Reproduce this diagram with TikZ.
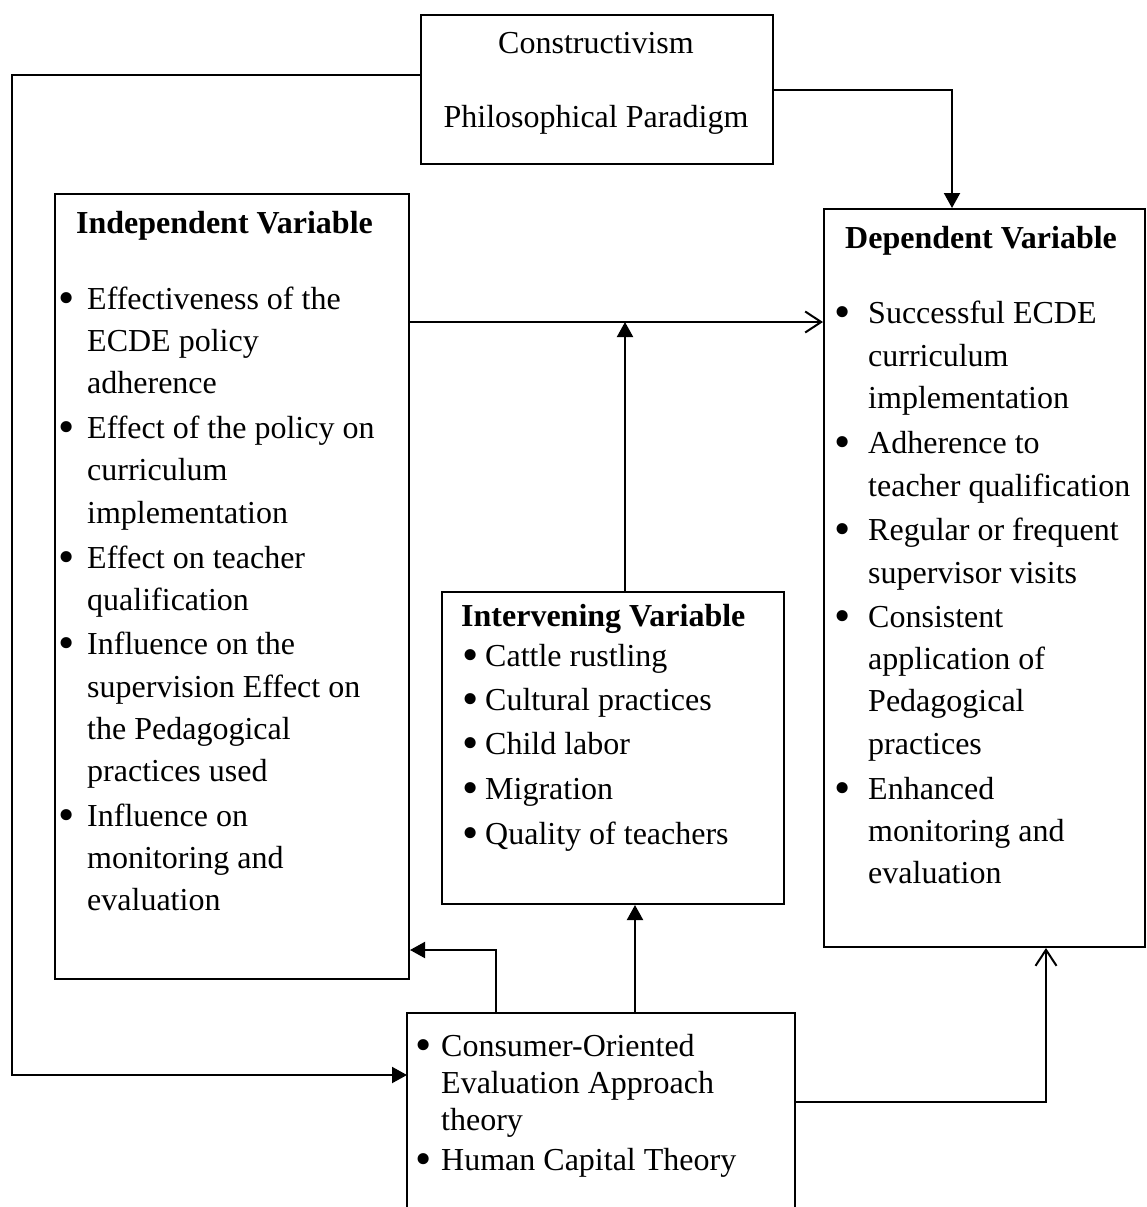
\documentclass[tikz,border=0pt]{standalone}
\usepackage{fontspec}
\usepackage{graphicx}
\setmainfont{Liberation Serif}
\usetikzlibrary{arrows.meta}
\newcommand{\bigbul}{\raisebox{-4.5pt}{\scalebox{1.45}{\textbullet}}}
\begin{document}
\begin{tikzpicture}[x=1pt,y=-1pt,
  box/.style={draw,line width=2pt,inner sep=0pt,anchor=north west},
  txt/.style={inner sep=0pt,anchor=base west,font=\fontsize{32pt}{42pt}\selectfont},
  hdr/.style={txt,font=\fontsize{32pt}{42pt}\selectfont\bfseries},
  ctr/.style={inner sep=0pt,anchor=base,font=\fontsize{32pt}{42pt}\selectfont},
  bul/.style={inner sep=0pt,anchor=base,font=\fontsize{32pt}{42pt}\selectfont},
  conn/.style={line width=2pt},
  arrF/.style={conn,-{Triangle[length=15pt,width=16pt]}},
  arrO/.style={conn,-{Straight Barb[length=16pt,width=21pt,line width=2pt]}}]
\useasboundingbox (0,0) rectangle (1146,1207);
\clip (0,0) rectangle (1146,1207);
% boxes
\node[box,minimum width=352pt,minimum height=149pt] (top) at (420,14) {};
\node[box,minimum width=354pt,minimum height=785pt] (ind) at (54,193) {};
\node[box,minimum width=321pt,minimum height=738pt] (dep) at (823,208) {};
\node[box,minimum width=342pt,minimum height=312pt] (int) at (441,591) {};
\draw[line width=2pt] (407,1230) -- (407,1013) coordinate (botnw) -- (795,1013) coordinate (botne) -- (795,1230);
% top texts
\node[ctr] (t1) at (596,53) {Constructivism};
\node[ctr] (t2) at (596,127) {Philosophical Paradigm};
% independent
\node[hdr] (indh) at (76,233) {Independent Variable};
\foreach \yy/\txt [count=\k] in {309/Effectiveness of the,351/ECDE policy,393/adherence,438/Effect of the policy on,480/curriculum,523/implementation,568/Effect on teacher,610/qualification,654/Influence on the,697/supervision Effect on,739/the Pedagogical,781/practices used,826/Influence on,868/monitoring and,910/evaluation}
  \node[txt] (ind-\k) at (87,\yy) {\txt};
\foreach \yy [count=\k] in {309,438,568,654,826}
  \node[bul] (indb-\k) at (67,\yy) {\bigbul};
% dependent
\node[hdr] (deph) at (845,248) {Dependent Variable};
\foreach \yy/\txt [count=\k] in {323/Successful ECDE,366/curriculum,408/implementation,453/Adherence to,496/teacher qualification,540/Regular or frequent,583/supervisor visits,627/Consistent,669/application of,711/Pedagogical,754/practices,799/Enhanced,841/monitoring and,883/evaluation}
  \node[txt] (dep-\k) at (868,\yy) {\txt};
\foreach \yy [count=\k] in {323,453,540,627,799}
  \node[bul] (depb-\k) at (843,\yy) {\bigbul};
% intervening
\node[hdr] (inth) at (461,626) {Intervening Variable};
\foreach \yy/\txt [count=\k] in {666/Cattle rustling,710/Cultural practices,754/Child labor,799/Migration,844/Quality of teachers}
  {\node[txt] (int-\k) at (485,\yy) {\txt};
   \node[bul] (intb-\k) at (471,\yy) {\bigbul};}
% bottom
\foreach \yy/\txt [count=\k] in {1056/Consumer-Oriented,1093/Evaluation Approach,1130/theory,1170/Human Capital Theory}
  \node[txt] (bot-\k) at (441,\yy) {\txt};
\node[bul] (botb-1) at (424,1056) {\bigbul};
\node[bul] (botb-2) at (424,1170) {\bigbul};
% connectors
\coordinate (ltop) at (12,75);
\coordinate (lbot) at (12,1075);
\draw[arrF] (top.west |- ltop) -- (ltop) -- (lbot) -- (botnw |- lbot);
\coordinate (rt) at (952,90);
\draw[arrF] (top.east |- rt) -- (rt) -- (rt |- dep.north);
\coordinate (mid) at (625,322);
\draw[arrO] (ind.east |- mid) -- (dep.west |- mid);
\draw[arrF] (mid |- int.north) -- (mid);
\coordinate (b2) at (635,1013);
\draw[arrF] (b2) -- (b2 |- int.south);
\coordinate (b1) at (496,950);
\draw[arrF] (b1 |- botnw) -- (b1) -- (ind.east |- b1);
\coordinate (b3) at (1046,1102);
\draw[arrO] (botne |- b3) -- (b3) -- (b3 |- dep.south);
\end{tikzpicture}
\end{document}
